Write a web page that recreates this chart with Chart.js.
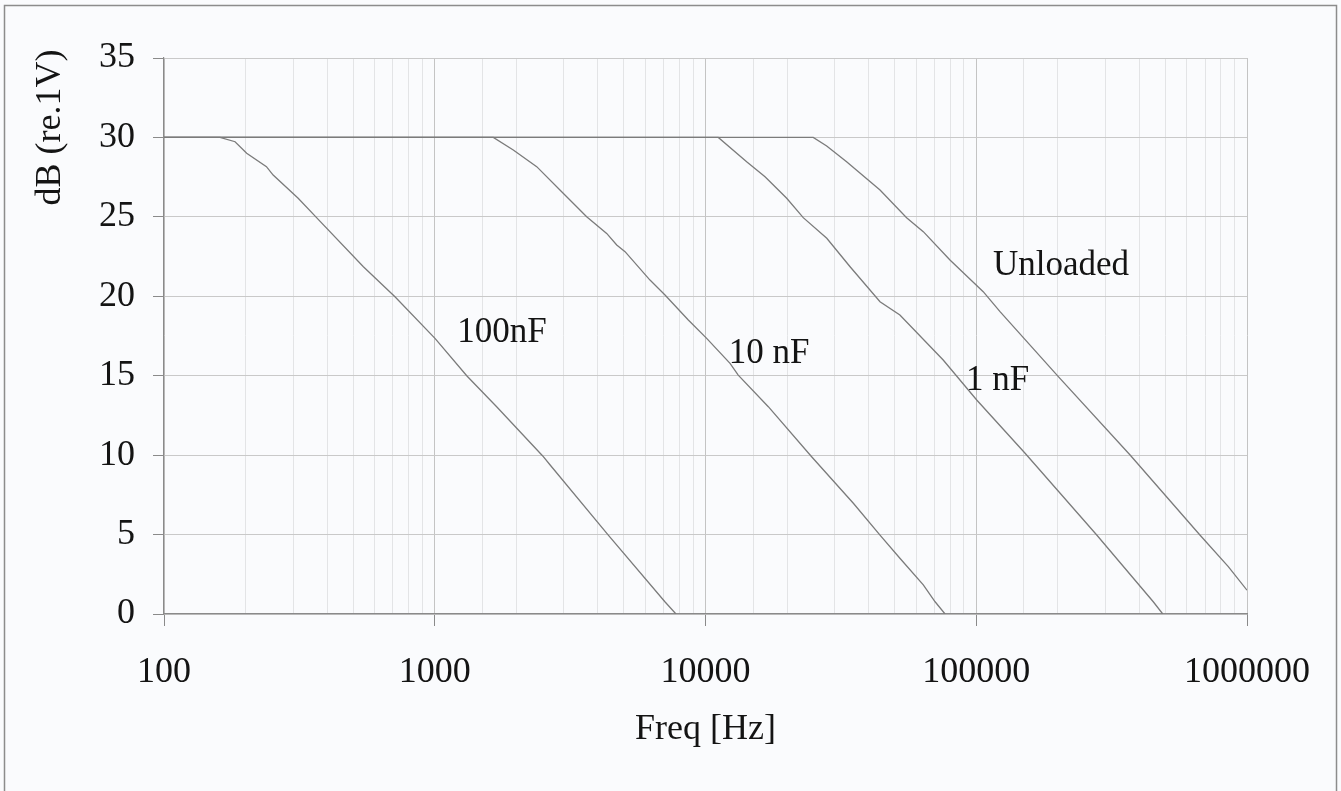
<!DOCTYPE html>
<html><head><meta charset="utf-8">
<script src="https://cdn.jsdelivr.net/npm/chart.js@4/dist/chart.umd.min.js"></script>
<style>html,body{margin:0;padding:0;background:#fafbfd;overflow:hidden}</style>
</head><body>
<canvas id="c" width="1341" height="791"></canvas>
<script>
// ---- data ----
const freq100nF = [100, 161, 183, 202, 239, 253, 313, 366, 545, 713, 1002, 1315, 1693, 2505, 2668, 4375, 7080, 7780];
const db100nF   = [30, 30, 29.73, 29.0, 28.16, 27.63, 26.17, 24.95, 21.86, 19.97, 17.35, 14.98, 13.05, 9.95, 9.38, 4.97, 0.77, 0];

const freq10nF = [100, 1646, 1950, 2380, 2900, 3640, 4315, 4700, 5045, 6237, 7087, 8640, 10100, 12320, 13210, 17060, 24660, 35160, 44110, 52240, 63740, 70470, 76700];
const db10nF   = [30, 30, 29.21, 28.16, 26.69, 25.01, 23.96, 23.23, 22.81, 21.02, 20.08, 18.51, 17.35, 15.78, 15.04, 13.05, 9.90, 6.97, 4.97, 3.51, 1.83, 0.77, 0];

const freq1nF = [100, 11150, 14190, 16590, 19950, 22960, 28050, 34200, 44110, 52240, 75500, 100400, 151500, 278600, 450600, 488500];
const db1nF   = [30, 30, 28.47, 27.53, 26.17, 24.95, 23.65, 21.86, 19.66, 18.82, 15.99, 13.47, 10.12, 4.97, 0.77, 0];

const freqUnloaded = [100, 25000, 28030, 33200, 44110, 55300, 63740, 79970, 106100, 122400, 201000, 370000, 670000, 853000, 1000000];
const dbUnloaded   = [30, 30, 29.46, 28.47, 26.69, 24.95, 24.07, 22.28, 20.29, 19.03, 14.94, 10.01, 4.97, 2.98, 1.5];

const seriesNames = ['100nF', '10 nF', '1 nF', 'Unloaded'];
const labelFreq = [1772, 17160, 119800, 205600];   // where each curve label sits
const labelDb   = [17.15, 15.8, 14.1, 21.34];

const yMin = 0, yMax = 35, yStep = 5;
const xMin = 100, xMax = 1000000;
const xTickLabels = [100, 1000, 10000, 100000, 1000000];

const xTitle = 'Freq [Hz]';
const yTitle = 'dB (re.1V)';

// ---- styling ----
const FONT = '"Liberation Serif", "Times New Roman", serif';
const TXT = '#141414';
const CURVE = '#7b7b7b';

function isDecade(v){ const l = Math.log10(v); return Math.abs(l - Math.round(l)) < 1e-9; }
function pts(f, d){ return f.map((x, i) => ({x: x, y: d[i]})); }

const decorPlugin = {
  id: 'decor',
  beforeDraw(chart){
    const c = chart.ctx;
    c.save();
    c.fillStyle = '#fafbfd';
    c.fillRect(0, 0, chart.width, chart.height);
    c.strokeStyle = '#8c8c8c';
    c.lineWidth = 1.5;
    c.strokeRect(4.5, 5.5, 1332, 800);
    c.restore();
  },
  afterDraw(chart){
    const c = chart.ctx, xs = chart.scales.x, ys = chart.scales.y, a = chart.chartArea;
    c.save();
    c.fillStyle = TXT;
    c.font = '35px ' + FONT;
    c.textAlign = 'center';
    c.textBaseline = 'alphabetic';
    seriesNames.forEach((n, i) => {
      c.fillText(n, xs.getPixelForValue(labelFreq[i]), ys.getPixelForValue(labelDb[i]));
    });
    c.font = '36px ' + FONT;
    // x title
    c.fillText(xTitle, (a.left + a.right) / 2, 739);
    // y title
    c.translate(60, 127.5);
    c.rotate(-Math.PI / 2);
    c.fillText(yTitle, 0, 0);
    c.restore();
  }
};

const mk = (label, f, d) => ({
  label, data: pts(f, d), borderColor: CURVE, borderWidth: 1.3,
  pointRadius: 0, tension: 0, fill: false
});

new Chart(document.getElementById('c'), {
  type: 'line',
  data: { datasets: [
    mk(seriesNames[0], freq100nF, db100nF),
    mk(seriesNames[1], freq10nF, db10nF),
    mk(seriesNames[2], freq1nF, db1nF),
    mk(seriesNames[3], freqUnloaded, dbUnloaded)
  ]},
  options: {
    responsive: false, animation: false, devicePixelRatio: 1,
    layout: { padding: { left: 0, right: 94, top: 58, bottom: 0 } },
    plugins: { legend: { display: false }, tooltip: { enabled: false } },
    scales: {
      x: {
        type: 'logarithmic', min: xMin, max: xMax,
        afterFit: s => { s.height = 177; },
        border: { color: '#8a8a8a', width: 1.2 },
        grid: {
          color: ctx => (ctx.tick && isDecade(ctx.tick.value)) ? '#c4c4c4' : '#e3e4e6',
          tickColor: ctx => (ctx.tick && isDecade(ctx.tick.value)) ? '#8a8a8a' : 'rgba(0,0,0,0)',
          tickLength: 12, lineWidth: 1
        },
        ticks: {
          autoSkip: false, maxRotation: 0, padding: 25,
          color: TXT, font: { family: FONT, size: 36 },
          callback: v => xTickLabels.includes(v) ? String(v) : ''
        }
      },
      y: {
        min: yMin, max: yMax,
        afterFit: s => { s.width = 164; },
        border: { color: '#8a8a8a', width: 1.2 },
        grid: { color: '#c9c9c9', tickColor: '#8a8a8a', tickLength: 11, lineWidth: 1 },
        ticks: { stepSize: yStep, padding: 18, color: TXT, font: { family: FONT, size: 36 } }
      }
    }
  },
  plugins: [decorPlugin]
});
</script>
</body></html>
